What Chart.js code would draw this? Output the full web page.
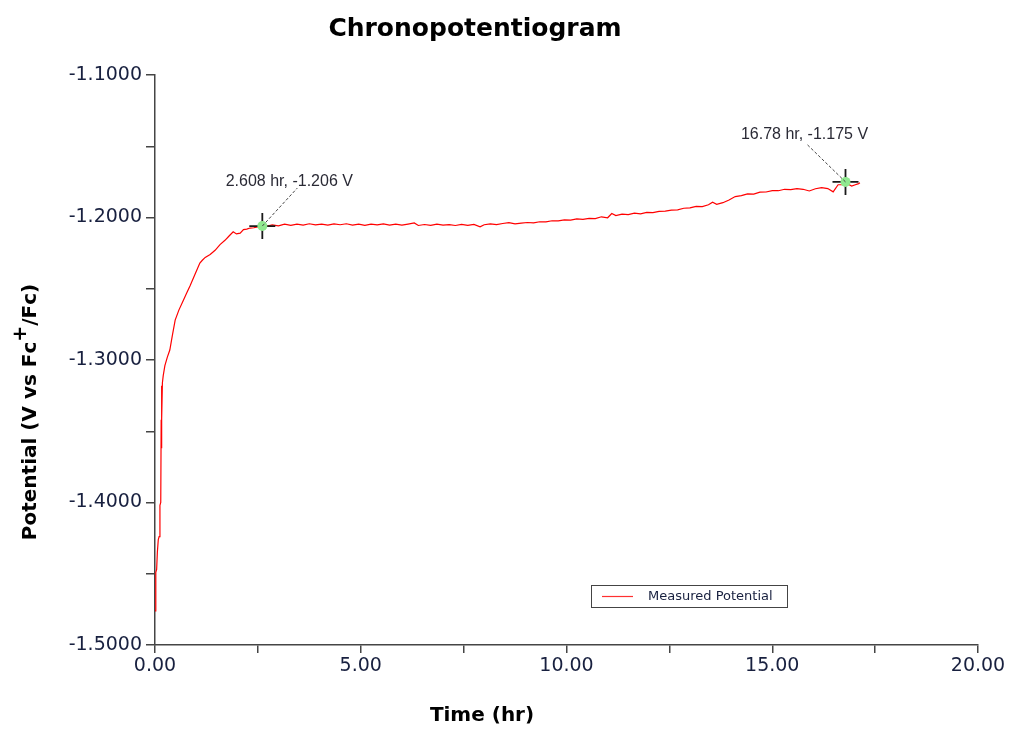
<!DOCTYPE html>
<html>
<head>
<meta charset="utf-8">
<script src="https://cdn.jsdelivr.net/npm/chart.js@4.4.1/dist/chart.umd.min.js"></script>
<style>
  html, body { margin: 0; padding: 0; background: #ffffff; }
  #wrap { width: 1012px; height: 732px; position: relative; }
</style>
</head>
<body>
<div id="wrap"><canvas id="c" width="1012" height="732"></canvas></div>
<script>
// ---- Data ----
const chartTitle = "Chronopotentiogram";
const xAxisTitle = "Time (hr)";
const yAxisTitleParts = ["Potential (V vs Fc", "+", "/Fc)"];
const seriesName = "Measured Potential";

const times = [
  0.000, 0.015, 0.024, 0.040, 0.057, 0.080, 0.100, 0.120, 0.140, 0.150,
  0.155, 0.160, 0.170, 0.180, 0.200, 0.240, 0.300, 0.360, 0.420, 0.490,
  0.580, 0.690, 0.770, 0.850, 0.970, 1.090, 1.150, 1.220, 1.340, 1.460,
  1.580, 1.700, 1.800, 1.900, 1.980, 2.070, 2.150, 2.230, 2.310, 2.400,
  2.500, 2.608, 2.700, 2.850, 3.000, 3.150, 3.300, 3.450, 3.600, 3.750,
  3.900, 4.050, 4.200, 4.350, 4.500, 4.650, 4.800, 4.950, 5.100, 5.250,
  5.400, 5.550, 5.700, 5.850, 6.000, 6.150, 6.300, 6.400, 6.550, 6.700,
  6.850, 7.000, 7.150, 7.300, 7.450, 7.600, 7.750, 7.900, 8.000, 8.150,
  8.300, 8.450, 8.600, 8.750, 8.900, 9.050, 9.200, 9.350, 9.500, 9.650,
  9.800, 9.950, 10.10, 10.25, 10.40, 10.55, 10.70, 10.85, 11.00, 11.10,
  11.20, 11.35, 11.50, 11.65, 11.80, 11.95, 12.10, 12.25, 12.40, 12.55,
  12.70, 12.85, 13.00, 13.15, 13.30, 13.45, 13.55, 13.65, 13.80, 13.95,
  14.10, 14.25, 14.40, 14.55, 14.70, 14.85, 15.00, 15.15, 15.30, 15.45,
  15.60, 15.75, 15.90, 16.05, 16.20, 16.35, 16.48, 16.60, 16.70, 16.78,
  16.85, 16.93, 17.02, 17.10, 17.13
];
const potentials = [
  -1.4760, -1.4620, -1.4490, -1.4470, -1.4350, -1.4260, -1.4240, -1.4020, -1.4000, -1.3420,
  -1.3620, -1.3180, -1.3420, -1.3160, -1.3110, -1.3040, -1.2980, -1.2930, -1.2830, -1.2720,
  -1.2650, -1.2580, -1.2530, -1.2480, -1.2400, -1.2320, -1.2300, -1.2280, -1.2260, -1.2230,
  -1.2190, -1.2160, -1.2130, -1.2100, -1.2115, -1.2110, -1.2085, -1.2082, -1.2074, -1.2072,
  -1.2066, -1.2060, -1.2062, -1.2052, -1.2058, -1.2047, -1.2055, -1.2046, -1.2053, -1.2044,
  -1.2052, -1.2046, -1.2054, -1.2045, -1.2051, -1.2044, -1.2053, -1.2046, -1.2055, -1.2047,
  -1.2052, -1.2045, -1.2053, -1.2047, -1.2054, -1.2046, -1.2038, -1.2056, -1.2049, -1.2055,
  -1.2047, -1.2054, -1.2050, -1.2056, -1.2048, -1.2055, -1.2049, -1.2066, -1.2051, -1.2045,
  -1.2050, -1.2042, -1.2036, -1.2045, -1.2039, -1.2035, -1.2038, -1.2030, -1.2031, -1.2023,
  -1.2024, -1.2017, -1.2018, -1.2010, -1.2013, -1.2006, -1.2008, -1.1995, -1.2002, -1.1972,
  -1.1987, -1.1976, -1.1980, -1.1970, -1.1974, -1.1964, -1.1966, -1.1957, -1.1955, -1.1948,
  -1.1946, -1.1935, -1.1933, -1.1922, -1.1924, -1.1911, -1.1893, -1.1907, -1.1896, -1.1877,
  -1.1853, -1.1847, -1.1834, -1.1836, -1.1822, -1.1821, -1.1811, -1.1812, -1.1802, -1.1804,
  -1.1797, -1.1802, -1.1814, -1.1798, -1.1790, -1.1797, -1.1820, -1.1770, -1.1770, -1.1750,
  -1.1767, -1.1779, -1.1770, -1.1762, -1.1756
];

// Marked points (cursor annotations)
const markerTimes = [2.608, 16.78];
const markerValues = [-1.206, -1.175];
const markerLabels = ["2.608 hr, -1.206 V", "16.78 hr, -1.175 V"];

// Axis ranges / ticks
const xMin = 0, xMax = 20, xStep = 2.5, xLabelEvery = 5;
const yMin = -1.5, yMax = -1.1, yStep = 0.05, yLabelEvery = 0.1;

// ---- Styles ----
const AXIS_COLOR = '#454545';
const TICK_TEXT = '#18203f';
const labelOffsets = [ {tx: 27, ty: -44, lx: 35, ly: -38}, {tx: -41, ty: -47, lx: -38, ly: -37} ];

const lineData = times.map((t, i) => ({ x: t, y: potentials[i] }));
const markerData = markerTimes.map((t, i) => ({ x: t, y: markerValues[i] }));

function isMultiple(v, step) {
  const r = v / step;
  return Math.abs(r - Math.round(r)) < 1e-6;
}

const decorPlugin = {
  id: 'decor',
  afterDraw(chart) {
    const ctx = chart.ctx;
    const xs = chart.scales.x, ys = chart.scales.y;
    const ca = chart.chartArea;
    ctx.save();
    // Title
    ctx.fillStyle = '#000';
    ctx.font = 'bold 25px "DejaVu Sans"';
    ctx.textAlign = 'center';
    ctx.textBaseline = 'middle';
    ctx.fillText(chartTitle, 475, 29);

    // X axis title
    ctx.font = 'bold 20px "DejaVu Sans"';
    ctx.fillText(xAxisTitle, 482, 716);

    // Y axis title (rotated, with superscript)
    ctx.save();
    ctx.translate(31, 412);
    ctx.rotate(-Math.PI / 2);
    ctx.textAlign = 'left';
    ctx.textBaseline = 'middle';
    const f1 = 'bold 20px "DejaVu Sans"', f2 = 'bold 19px "DejaVu Sans"';
    ctx.font = f1;
    const w0 = ctx.measureText(yAxisTitleParts[0]).width;
    const w2 = ctx.measureText(yAxisTitleParts[2]).width;
    ctx.font = f2;
    const w1 = ctx.measureText(yAxisTitleParts[1]).width;
    const total = w0 + w1 + w2;
    let px = -total / 2;
    ctx.font = f1;
    ctx.fillText(yAxisTitleParts[0], px, 0);
    px += w0;
    ctx.font = f2;
    ctx.fillText(yAxisTitleParts[1], px, -10);
    px += w1;
    ctx.font = f1;
    ctx.fillText(yAxisTitleParts[2], px, 0);
    ctx.restore();

    // Marker labels and leader lines
    ctx.font = '16px "Liberation Sans"';
    ctx.fillStyle = '#2a2a35';
    ctx.textAlign = 'center';
    ctx.textBaseline = 'middle';
    markerTimes.forEach((t, i) => {
      const mx = xs.getPixelForValue(t), my = ys.getPixelForValue(markerValues[i]);
      const o = labelOffsets[i];
      ctx.save();
      ctx.strokeStyle = '#444';
      ctx.lineWidth = 1;
      ctx.setLineDash([3, 2]);
      ctx.beginPath();
      ctx.moveTo(mx, my);
      ctx.lineTo(mx + o.lx, my + o.ly);
      ctx.stroke();
      ctx.restore();
      ctx.fillText(markerLabels[i], mx + o.tx, my + o.ty);
    });

    // Legend box
    const lx = ca.left + 436, ly = ca.top + 510;
    ctx.fillStyle = '#fff';
    ctx.fillRect(lx, ly, 196, 22);
    ctx.strokeStyle = '#444';
    ctx.lineWidth = 1;
    ctx.strokeRect(lx + 0.5, ly + 0.5, 196, 22);
    ctx.strokeStyle = '#ff3030';
    ctx.lineWidth = 1.2;
    ctx.beginPath();
    ctx.moveTo(lx + 11, ly + 11.5);
    ctx.lineTo(lx + 42, ly + 11.5);
    ctx.stroke();
    ctx.fillStyle = TICK_TEXT;
    ctx.font = '13px "DejaVu Sans"';
    ctx.textAlign = 'left';
    ctx.fillText(seriesName, lx + 57, ly + 12);
    ctx.restore();
  }
};

new Chart(document.getElementById('c'), {
  type: 'scatter',
  data: {
    datasets: [
      {
        label: seriesName,
        data: lineData,
        showLine: true,
        borderColor: '#ff0000',
        borderWidth: 1.2,
        pointRadius: 0,
        fill: false,
        order: 3
      },
      {
        label: 'cursor',
        data: markerData,
        showLine: false,
        pointStyle: 'cross',
        pointRadius: 13,
        borderColor: '#1a1a1a',
        borderWidth: 1.8,
        order: 2
      },
      {
        label: 'cursor point',
        data: markerData,
        showLine: false,
        pointStyle: 'circle',
        pointRadius: 5,
        backgroundColor: '#8fe98f',
        borderColor: '#8fe98f',
        borderWidth: 0,
        order: 1
      }
    ]
  },
  options: {
    responsive: false,
    animation: false,
    devicePixelRatio: 1,
    layout: { padding: { left: 0, top: 75, right: 34, bottom: 0 } },
    plugins: {
      legend: { display: false },
      tooltip: { enabled: false },
      title: { display: false }
    },
    scales: {
      x: {
        type: 'linear',
        min: xMin, max: xMax,
        grid: { display: true, drawOnChartArea: false, drawTicks: true, tickLength: 8, color: AXIS_COLOR, lineWidth: 1.5 },
        border: { display: true, color: AXIS_COLOR, width: 1.5 },
        ticks: {
          stepSize: xStep,
          autoSkip: false,
          maxRotation: 0,
          padding: 2,
          color: TICK_TEXT,
          font: { family: '"DejaVu Sans"', size: 19 },
          callback: (v) => isMultiple(v, xLabelEvery) ? Number(v).toFixed(2) : ''
        },
        afterFit: (s) => { s.height = 87; }
      },
      y: {
        type: 'linear',
        min: yMin, max: yMax,
        grid: { display: true, drawOnChartArea: false, drawTicks: true, tickLength: 9, color: AXIS_COLOR, lineWidth: 1.5 },
        border: { display: true, color: AXIS_COLOR, width: 1.5 },
        ticks: {
          stepSize: yStep,
          autoSkip: false,
          padding: 4,
          color: TICK_TEXT,
          font: { family: '"DejaVu Sans"', size: 19 },
          callback: (v) => isMultiple(v, yLabelEvery) ? Number(v).toFixed(4) : ''
        },
        afterFit: (s) => { s.width = 155; }
      }
    }
  },
  plugins: [decorPlugin]
});
</script>
</body>
</html>
